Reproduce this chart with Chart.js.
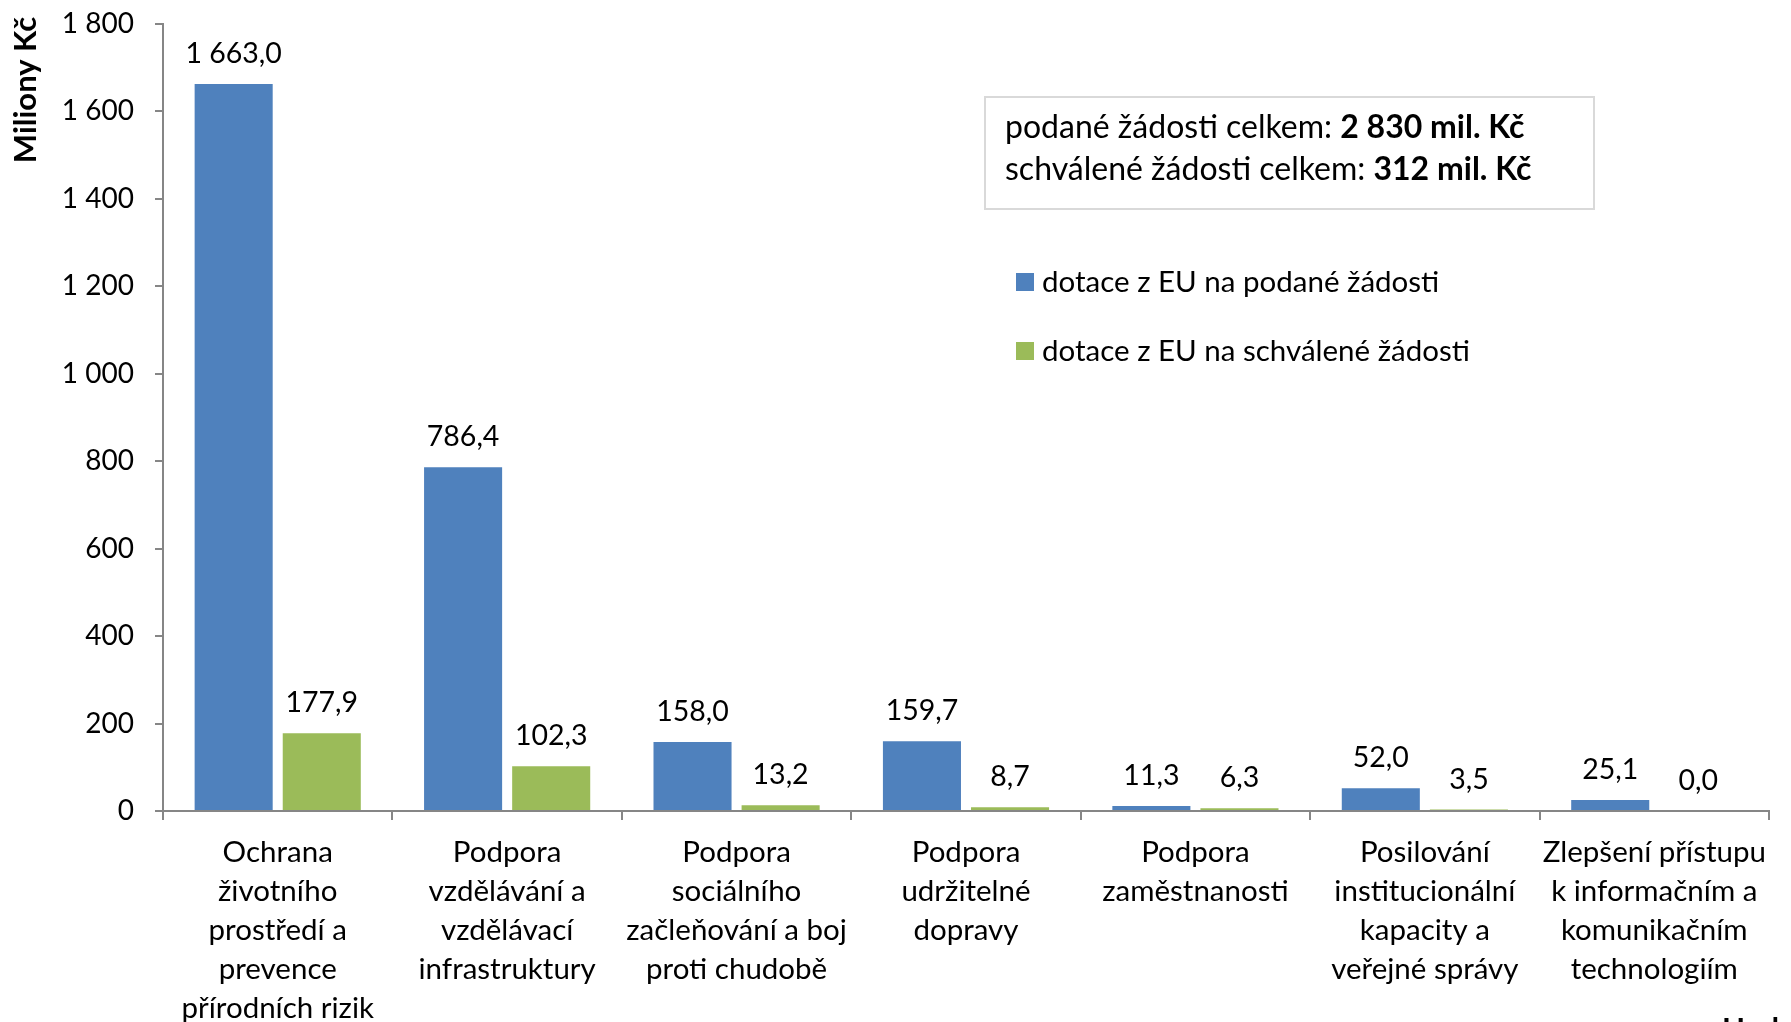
<!DOCTYPE html>
<html lang="cs">
<head>
<meta charset="UTF-8">
<title>Dotace z EU podle oblasti</title>
<script src="https://cdn.jsdelivr.net/npm/chart.js"></script>
<style>
  body { margin: 0; background: #fff; overflow: hidden; }
  canvas { display: block; }
</style>
</head>
<body>
<canvas id="chart" width="1791" height="1022"></canvas>
<script>
const categories = [
  ['Ochrana', 'životního', 'prostředí a', 'prevence', 'přírodních rizik'],
  ['Podpora', 'vzdělávání a', 'vzdělávací', 'infrastruktury'],
  ['Podpora', 'sociálního', 'začleňování a boj', 'proti chudobě'],
  ['Podpora', 'udržitelné', 'dopravy'],
  ['Podpora', 'zaměstnanosti'],
  ['Posilování', 'institucionální', 'kapacity a', 'veřejné správy'],
  ['Zlepšení přístupu', 'k informačním a', 'komunikačním', 'technologiím']
];
const podane = [1663.0, 786.4, 158.0, 159.7, 11.3, 52.0, 25.1];
const schvalene = [177.9, 102.3, 13.2, 8.7, 6.3, 3.5, 0.0];
const seriesNames = ['dotace z EU na podané žádosti', 'dotace z EU na schválené žádosti'];
const yTicks = [0, 200, 400, 600, 800, 1000, 1200, 1400, 1600, 1800];
const totals = [
  ['podané žádosti celkem: ', '2 830 mil. Kč'],
  ['schválené žádosti celkem: ', '312 mil. Kč']
];

const FONT = 'Lato, "Open Sans", sans-serif';
const BLUE = '#4f81bd';
const GREEN = '#9bbb59';
const AXIS = '#868686';

function czNum(v, dec) {
  const s = v.toFixed(dec).split('.');
  const intPart = s[0].replace(/\B(?=(\d{3})+(?!\d))/g, ' ');
  return s.length > 1 ? intPart + ',' + s[1] : intPart;
}

// value labels above bars + rotated y title + totals box + legend
const extras = {
  id: 'extras',
  afterDatasetsDraw(chart) {
    const ctx = chart.ctx;
    ctx.save();
    ctx.fillStyle = '#000';
    ctx.font = '28.5px ' + FONT;
    ctx.textAlign = 'center';
    ctx.textBaseline = 'middle';
    chart.data.datasets.forEach((ds, i) => {
      chart.getDatasetMeta(i).data.forEach((bar, j) => {
        ctx.fillText(czNum(ds.data[j], 1), bar.x, bar.y - 30);
      });
    });
    ctx.restore();
  },
  afterDraw(chart) {
    const ctx = chart.ctx;
    ctx.save();

    // y axis title
    ctx.translate(26, 90);
    ctx.rotate(-Math.PI / 2);
    ctx.font = 'bold 31px ' + FONT;
    ctx.fillStyle = '#000';
    ctx.textAlign = 'center';
    ctx.textBaseline = 'middle';
    ctx.fillText('Miliony Kč', 0, 0);
    ctx.setTransform(1, 0, 0, 1, 0, 0);

    // totals box
    ctx.strokeStyle = '#d9d9d9';
    ctx.lineWidth = 2;
    ctx.strokeRect(985, 97, 609, 112);
    ctx.textAlign = 'left';
    totals.forEach((t, i) => {
      const y = 128 + i * 42;
      ctx.font = '32px ' + FONT;
      ctx.fillText(t[0], 1005, y);
      const w = ctx.measureText(t[0]).width;
      ctx.font = 'bold 32px ' + FONT;
      ctx.fillText(t[1], 1005 + w, y);
    });

    // legend
    ctx.font = '29.5px ' + FONT;
    chart.data.datasets.forEach((ds, i) => {
      const y = 282 + i * 69;
      ctx.fillStyle = ds.backgroundColor;
      ctx.fillRect(1016, y - 9, 18, 18);
      ctx.fillStyle = '#000';
      ctx.fillText(ds.label, 1042, y);
    });

    // cut-off note at the bottom edge
    ctx.font = 'bold 30px ' + FONT;
    ctx.textBaseline = 'top';
    ctx.fillText('Hodnoty', 1722, 1015);
    ctx.restore();
  }
};

new Chart(document.getElementById('chart'), {
  type: 'bar',
  data: {
    labels: categories,
    datasets: [
      { label: seriesNames[0], data: podane, backgroundColor: BLUE },
      { label: seriesNames[1], data: schvalene, backgroundColor: GREEN }
    ]
  },
  options: {
    responsive: false,
    animation: false,
    devicePixelRatio: 1,
    layout: { padding: { top: 24, right: 22, left: 0, bottom: 0 } },
    datasets: { bar: { categoryPercentage: 0.768, barPercentage: 0.886 } },
    plugins: { legend: { display: false }, tooltip: { enabled: false } },
    scales: {
      x: {
        afterFit(scale) {
          scale.height = 1022 - 811;
          scale.paddingTop = 0;
          scale.paddingBottom = 0;
        },
        border: { color: AXIS, width: 2 },
        grid: { drawOnChartArea: false, tickLength: 9, color: AXIS, lineWidth: 2 },
        ticks: {
          autoSkip: false,
          maxRotation: 0,
          minRotation: 0,
          padding: 13,
          color: '#000',
          font: { family: FONT, size: 29.5, lineHeight: 1.32 }
        }
      },
      y: {
        min: 0,
        max: 1800,
        afterFit(scale) {
          scale.width = 163;
          scale.paddingTop = 0;
          scale.paddingBottom = 0;
        },
        afterBuildTicks(scale) { scale.ticks = yTicks.map(v => ({ value: v })); },
        border: { color: AXIS, width: 2 },
        grid: { drawOnChartArea: false, tickLength: 8, color: AXIS, lineWidth: 2 },
        ticks: {
          padding: 21,
          color: '#000',
          font: { family: FONT, size: 28 },
          callback: v => czNum(v, 0)
        }
      }
    }
  },
  plugins: [extras]
});
</script>
</body>
</html>
